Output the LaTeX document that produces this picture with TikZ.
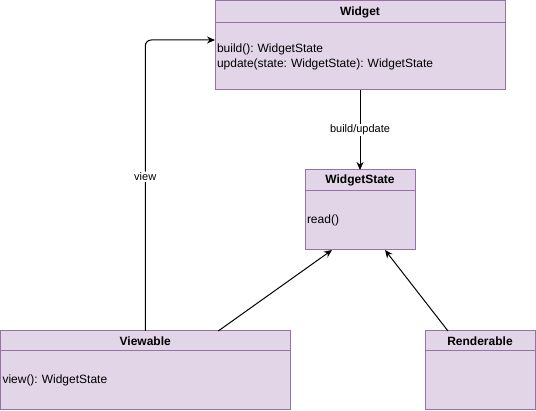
\documentclass[tikz,border=0pt]{standalone}
\usepackage{fontspec}
\setmainfont{Liberation Sans}
\usetikzlibrary{positioning,arrows.meta,calc}
\definecolor{classfill}{HTML}{E1D5E7}
\definecolor{classline}{HTML}{9673A6}
\frenchspacing

\begin{document}
\begin{tikzpicture}[x=1pt, y=-1pt, >={Stealth[length=8pt,width=7pt]},
	entete/.style={draw=classline, fill=classfill, line width=1pt, inner sep=0, outer sep=0,
		font=\fontsize{12}{14}\selectfont\bfseries, anchor=north west},
	corps/.style={draw=classline, fill=classfill, line width=1pt, inner xsep=2pt, inner ysep=0,
		outer sep=0, font=\fontsize{12}{15}\selectfont, align=left},
	lien/.style={line width=1pt, ->},
	etiquette/.style={fill=white, inner sep=1pt, font=\fontsize{11}{13}\selectfont}]
	\useasboundingbox (0,0) rectangle (536,411);

	% classes
	\node[entete, minimum width=290pt, minimum height=22pt] (widgetHead) at (215,1) {Widget};
	\node[corps, below=0pt of widgetHead, minimum height=67pt, text width=286pt] (widgetBody)
		{build(): WidgetState\\update(state: WidgetState): WidgetState};

	\node[entete, minimum width=110pt, minimum height=21pt] (stateHead) at (305,170) {WidgetState};
	\node[corps, below=0pt of stateHead, minimum height=59pt, text width=106pt] (stateBody) {read()};

	\node[entete, minimum width=289.5pt, minimum height=20pt] (viewHead) at (0.5,331) {Viewable};
	\node[corps, below=0pt of viewHead, minimum height=59pt, text width=285.5pt] (viewBody)
		{view(): WidgetState};

	\node[entete, minimum width=110pt, minimum height=20pt] (rendHead) at (425,331) {Renderable};
	\node[corps, below=0pt of rendHead, minimum height=59pt, text width=106pt] (rendBody) {};

	% liens
	\path (widgetBody.south) edge[lien] node[etiquette] {build/update} (stateHead.north);
	\draw[lien, rounded corners=6pt] (viewHead.north) |- node[etiquette, pos=0.265] {view}
		($(widgetBody.north west)+(0,17)$);
	\draw[lien] ($(viewHead.north)+(73,0)$) -- ($(stateBody.south)+(-28,0)$);
	\draw[lien] ($(rendHead.north)+(-32,0)$) -- ($(stateBody.south)+(25,0)$);

\end{tikzpicture}
\end{document}
